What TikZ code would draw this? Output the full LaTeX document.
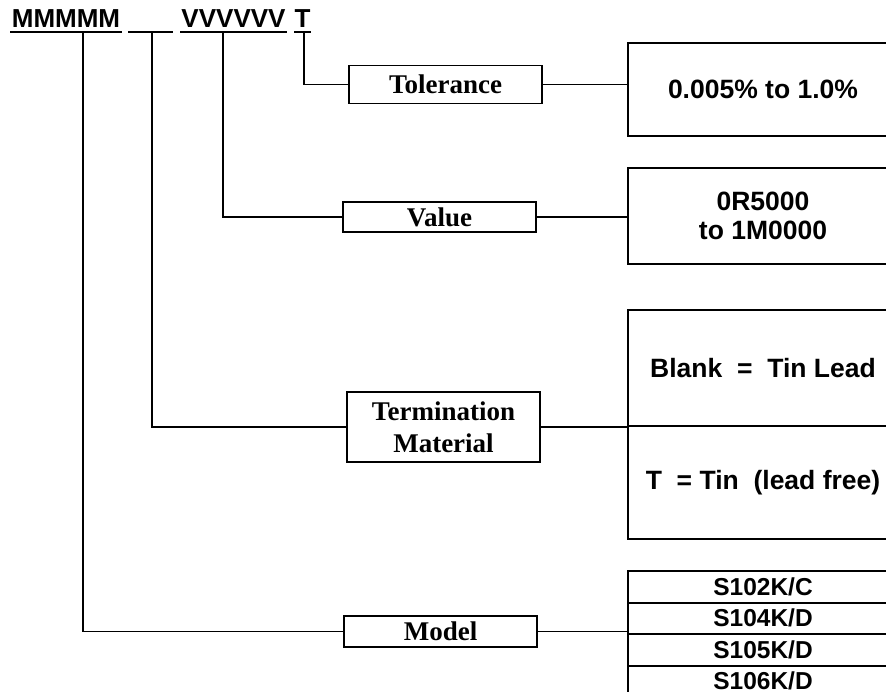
\documentclass[tikz,border=0pt]{standalone}
\usepackage{fontspec}
\setmainfont{Liberation Serif}
\newfontfamily\arialf{Liberation Sans}
\begin{document}
\begin{tikzpicture}[x=1pt,y=-1pt,
  hdr/.style={font=\arialf\bfseries\fontsize{26}{30}\selectfont, inner sep=0pt, anchor=base},
  uline/.style={line width=2pt},
  serifbox/.style={draw, line width=1.8pt, minimum width=193pt, inner sep=0pt, align=center,
    font=\rmfamily\bfseries\fontsize{27}{32}\selectfont},
  cell/.style={draw, line width=2pt, anchor=north west, minimum width=270pt, inner sep=0pt, align=center,
    font=\arialf\bfseries\fontsize{26.5}{28.5}\selectfont},
  tcell/.style={cell, minimum height=31.5pt, font=\arialf\bfseries\fontsize{24.5}{28}\selectfont},
  conn/.style={line width=1.5pt}]
\useasboundingbox (0,0) rectangle (886,692);
\clip (0,0) rectangle (886,692);
\fill[white] (0,0) rectangle (886,692);
% header
\node[hdr] (mm) at (66,28) {MMMMM};
\node[hdr] (vv) at (233.5,28) {VVVVVV};
\node[hdr] (tt) at (302.5,28) {T};
\draw[uline] (10,32) -- (122,32);
\draw[uline] (128,32) -- (173,32);
\draw[uline] (180,32) -- (287,32);
\draw[uline] (294,32) -- (311,32);
\coordinate (m0) at (83,32);
\coordinate (t0) at (152,32);
\coordinate (v0) at (223,32);
\coordinate (tt0) at (304,32);
% middle boxes
\node[serifbox, minimum height=38pt] (tol) at (445.5,84.5) {Tolerance};
\node[serifbox, minimum height=30pt] (value) at (439.5,217) {Value};
\node[serifbox, minimum height=70pt] (term) at (443.5,427) {Termination\\Material};
\node[serifbox, minimum height=31pt] (model) at (440.5,631.5) {Model};
% right boxes
\node[cell, minimum height=93pt] (tolr) at (627,42) {0.005\% to 1.0\%};
\node[cell, minimum height=96pt] (valr) at (627,167) {0R5000\\to 1M0000};
\node[cell, minimum height=116pt] (termr1) at (627,309) {Blank\ \ =\ \ Tin Lead};
\node[cell, minimum height=113pt] (termr2) at (627,425) {T\ \ = Tin\ \ (lead free)};
\node[tcell] (m1) at (627,570) {S102K/C};
\node[tcell] (m2) at (627,601.5) {S104K/D};
\node[tcell] (m3) at (627,633) {S105K/D};
\node[tcell, minimum height=32pt] (m4) at (627,664.5) {\raisebox{2.5pt}{S106K/D}};
% connectors
\draw[conn] (m0) |- (model.west);
\draw[conn] (t0) |- (term.west);
\draw[conn] (v0) |- (value.west);
\draw[conn] (tt0) |- (tol.west);
\draw[conn] (tol.east) -- (tol.east -| tolr.west);
\draw[conn] (value.east) -- (value.east -| valr.west);
\draw[conn] (term.east) -- (term.east -| termr1.west);
\draw[conn] (model.east) -- (model.east -| m2.west);
\end{tikzpicture}
\end{document}
